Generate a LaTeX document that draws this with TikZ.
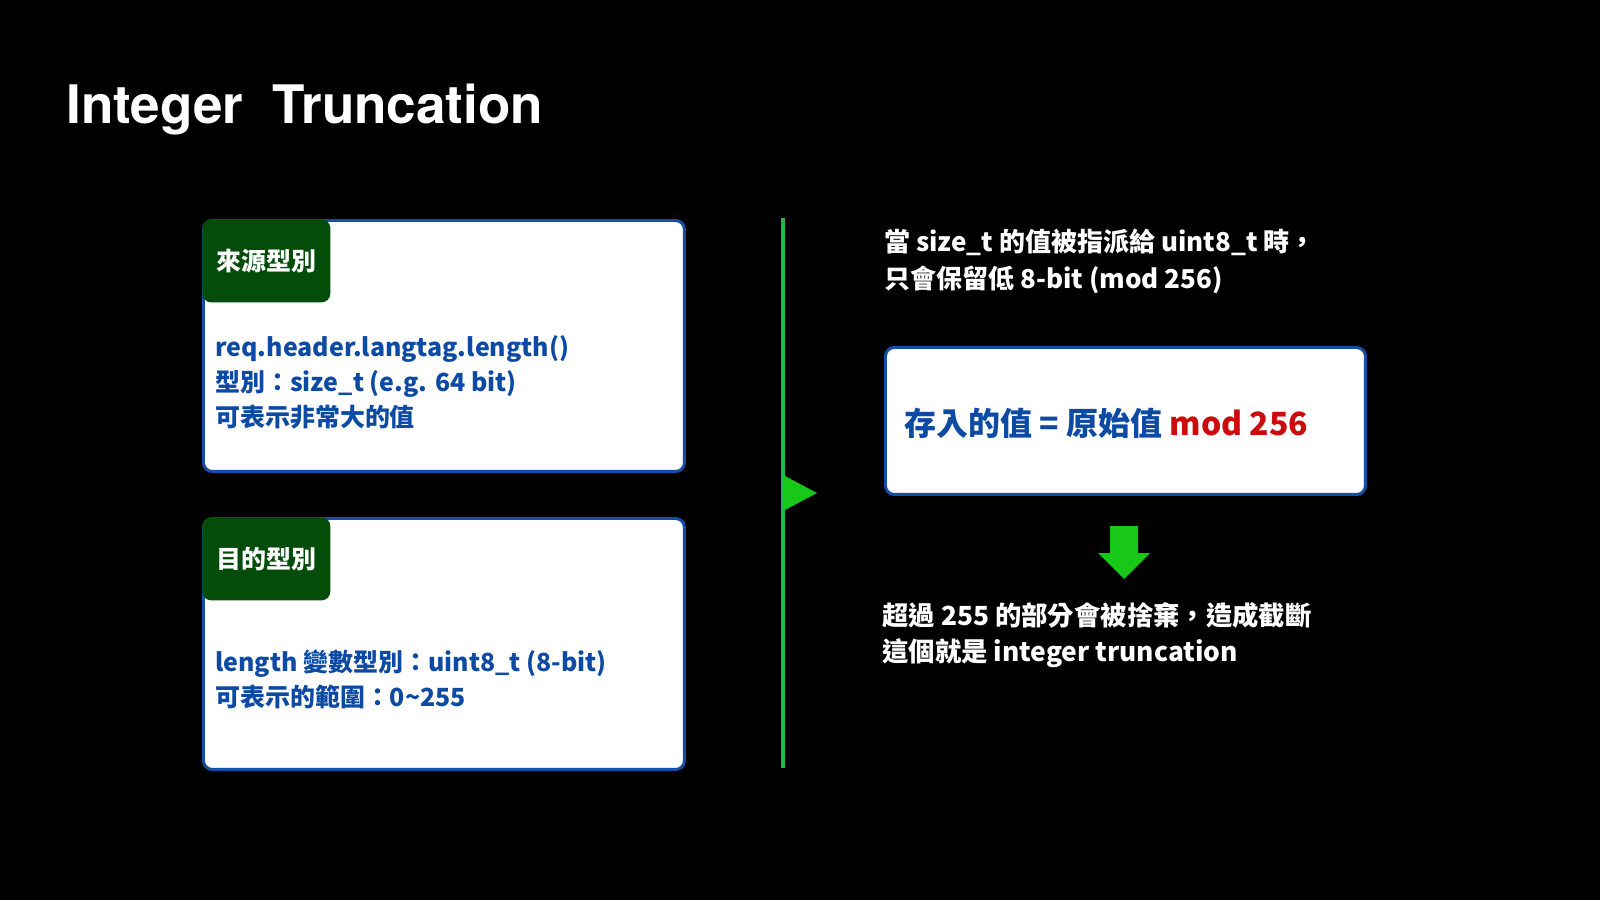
\documentclass[tikz,border=0pt]{standalone}
\usepackage{fontspec}
\setmainfont{Noto Sans CJK TC}
\newfontfamily\titlefont{TeX Gyre Heros}
\usetikzlibrary{positioning}

\definecolor{boxblue}{RGB}{20,78,168}
\definecolor{textblue}{RGB}{12,74,164}
\definecolor{tagGreen}{RGB}{4,76,10}
\definecolor{lineGreen}{RGB}{32,182,82}
\definecolor{arrowGreen}{RGB}{24,200,24}
\definecolor{modRed}{RGB}{204,12,12}

\tikzset{
  panel/.style={draw=boxblue, line width=1.7pt, fill=white, rounded corners=5pt,
    anchor=north west, inner sep=0},
  tag/.style={fill=tagGreen, rounded corners=5pt, anchor=north west, inner sep=0,
    minimum width=2.56cm, minimum height=1.66cm, text=white,
    font=\bfseries\fontsize{14.2}{17}\selectfont},
  body/.style={anchor=west, align=left, inner sep=0, text=textblue,
    font=\bfseries\fontsize{14.2}{19.9}\selectfont},
  note/.style={anchor=west, align=left, inner sep=0, text=white,
    font=\bfseries\fontsize{14.8}{21}\selectfont}
}

\begin{document}
\begin{tikzpicture}[x=0.02cm,y=-0.02cm]
  \fill[black] (0,0) rectangle (1600,900);

  % title
  \node[anchor=base west, inner sep=0, text=white,
    font=\titlefont\bfseries\fontsize{30.2}{34}\selectfont] (title) at (66,123)
    {Integer\hspace{0.55em}Truncation};

  % source type
  \node[panel, minimum width=9.62cm, minimum height=5.02cm] (src) at (202,219) {};
  \node[tag] (srctag) at (src.north west) {來源型別};
  \node[body] (srctxt) at (215,382)
    {req.header.langtag.length()\\型別：size\_t (e.g. 64 bit)\\可表示非常大的值};

  % destination type
  \node[panel, minimum width=9.62cm, minimum height=5.02cm] (dst) at (202,517) {};
  \node[tag] (dsttag) at (dst.north west) {目的型別};
  \node[body] (dsttxt) at (215,679.5)
    {length 變數型別：uint8\_t (8-bit)\\可表示的範圍：0\textasciitilde255};

  % divider with marker
  \coordinate (divtop) at (783,218);
  \coordinate (divbot) at (783,768);
  \draw[lineGreen, line width=1.8pt] (divtop) -- (divbot);
  \fill[arrowGreen] (783,475) -- (817,493) -- (783,511) -- cycle;

  % right side
  \node[note] (why) at (884,261.5)
    {當 size\_t 的值被指派給 uint8\_t 時，\\只會保留低 8-bit (mod 256)};
  \node[panel, minimum width=9.6cm, minimum height=2.94cm] (res) at (884,346) {};
  \node[anchor=west, inner sep=0, text=textblue,
    font=\bfseries\fontsize{18.2}{22}\selectfont] (eq) at (904,423)
    {存入的值 = 原始值 \textcolor{modRed}{mod 256}};
  % down arrow
  \fill[arrowGreen] (1110,526) -- (1138,526) -- (1138,553) -- (1150,553)
    -- (1124,579) -- (1098,553) -- (1110,553) -- cycle;
  \node[note, font=\bfseries\fontsize{15}{20.5}\selectfont] (drop) at (882,635)
    {超過 255 的部分會被捨棄，造成截斷\\這個就是 integer truncation};
\end{tikzpicture}
\end{document}
